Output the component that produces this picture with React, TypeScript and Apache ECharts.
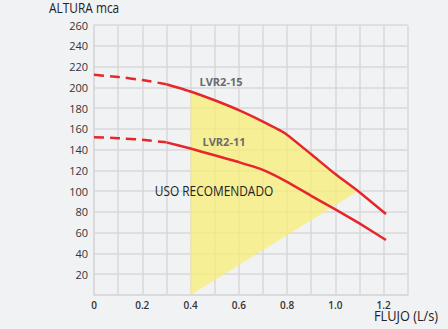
import React, { useEffect, useRef } from "react";
import * as echarts from "echarts";

const xTickLabels = ["0", "0.2", "0.4", "0.6", "0.8", "1.0", "1.2"];
const yTickLabels = ["20", "40", "60", "80", "100", "120", "140", "160", "180", "200", "220", "240", "260"];

const lvr15DashX = [0, 0.1, 0.2, 0.3];
const lvr15DashY = [212, 210, 207, 203];
const lvr15X = [0.3, 0.4, 0.5, 0.6, 0.7, 0.79, 0.9, 1.0, 1.1, 1.21];
const lvr15Y = [203, 196, 187.5, 178, 167, 156, 135.5, 116.5, 99, 78];

const lvr11DashX = [0, 0.1, 0.2, 0.3];
const lvr11DashY = [152, 151, 149.5, 147];
const lvr11X = [0.3, 0.4, 0.5, 0.6, 0.7, 0.8, 0.9, 1.0, 1.1, 1.21];
const lvr11Y = [147, 141, 134.5, 128, 120.5, 109, 95.5, 82.5, 69, 53];

const zoneX = [0.4, 0.4, 0.5, 0.6, 0.7, 0.79, 0.9, 1.0, 1.094];
const zoneY = [0, 196, 187.5, 178, 167, 156, 135.5, 116.5, 100];

const zip = (xs: number[], ys: number[]) => xs.map((x, i) => [x, ys[i]]);

export default function App() {
  const ref = useRef<HTMLDivElement>(null);
  useEffect(() => {
    const chart = echarts.init(ref.current!, null, { renderer: "svg" });
    const grid = "#d9d9dc";
    const red = "#e5262b";
    const zonePts = zip(zoneX, zoneY);
    const lineBase = { type: "line", symbol: "none", z: 3, smooth: 0.15 };
    chart.setOption({
      animation: false,
      backgroundColor: "#f1f2f4",
      grid: { left: 94, top: 25, right: 40.3, bottom: 34 },
      xAxis: {
        type: "value",
        min: 0,
        max: 1.3,
        interval: 0.1,
        axisLine: { show: true, lineStyle: { color: grid, width: 1.5 } },
        axisTick: { show: false },
        splitLine: { show: true, lineStyle: { color: grid, width: 1.5 } },
        axisLabel: {
          margin: 5,
          fontFamily: "Open Sans",
          fontSize: 10,
          fontWeight: 600,
          color: "#333",
          formatter: (v: number) => {
            const r = Math.round(v * 10);
            if (r % 2 === 0 && r / 2 < xTickLabels.length) return xTickLabels[r / 2];
            return "";
          },
        },
      },
      yAxis: {
        type: "value",
        min: 0,
        max: 260,
        interval: 20,
        axisLine: { show: true, lineStyle: { color: grid, width: 1.5 } },
        axisTick: { show: false },
        splitLine: { show: true, lineStyle: { color: grid, width: 1.5 } },
        axisLabel: {
          margin: 6,
          fontFamily: "Open Sans",
          fontSize: 11,
          color: "#333",
          formatter: (v: number) => {
            const i = Math.round(v / 20) - 1;
            return i >= 0 && i < yTickLabels.length ? yTickLabels[i] : "";
          },
        },
      },
      series: [
        {
          type: "custom",
          data: [0],
          z: 1,
          renderItem: (params: any, api: any) => ({
            type: "polygon",
            shape: { points: zonePts.map((p) => api.coord(p)) },
            style: { fill: "rgba(249,238,110,0.7)" },
          }),
        },
        { ...lineBase, data: zip(lvr15DashX, lvr15DashY), lineStyle: { color: red, width: 2.5, type: [10, 6] } },
        { ...lineBase, data: zip(lvr15X, lvr15Y), lineStyle: { color: red, width: 2.5 } },
        { ...lineBase, data: zip(lvr11DashX, lvr11DashY), lineStyle: { color: red, width: 2.5, type: [10, 6] } },
        { ...lineBase, data: zip(lvr11X, lvr11Y), lineStyle: { color: red, width: 2.5 } },
      ],
      graphic: [
        {
          type: "text",
          x: 49,
          y: 1,
          scaleX: 0.85,
          style: { text: "ALTURA mca", font: "14px 'Open Sans', sans-serif", fill: "#222" },
        },
        {
          type: "text",
          x: 374,
          y: 308,
          scaleX: 0.85,
          style: { text: "FLUJO (L/s)", font: "15px 'Open Sans', sans-serif", fill: "#222" },
        },
        {
          type: "text",
          x: 221,
          y: 81,
          style: { text: "LVR2-15", font: "bold 11px 'Open Sans', sans-serif", fill: "#6b6b6b", align: "center", verticalAlign: "middle" },
          z: 10,
        },
        {
          type: "text",
          x: 224,
          y: 141,
          style: { text: "LVR2-11", font: "bold 11px 'Open Sans', sans-serif", fill: "#6b6b6b", align: "center", verticalAlign: "middle" },
          z: 10,
        },
        {
          type: "text",
          x: 214,
          y: 191,
          scaleX: 0.85,
          style: { text: "USO RECOMENDADO", font: "14px 'Open Sans', sans-serif", fill: "#222", align: "center", verticalAlign: "middle" },
          z: 10,
        },
      ],
    });
    return () => chart.dispose();
  }, []);
  return (
    <div
      ref={ref}
      style={{ position: "fixed", left: 0, top: 0, width: 448, height: 329, background: "#f1f2f4" }}
    />
  );
}
